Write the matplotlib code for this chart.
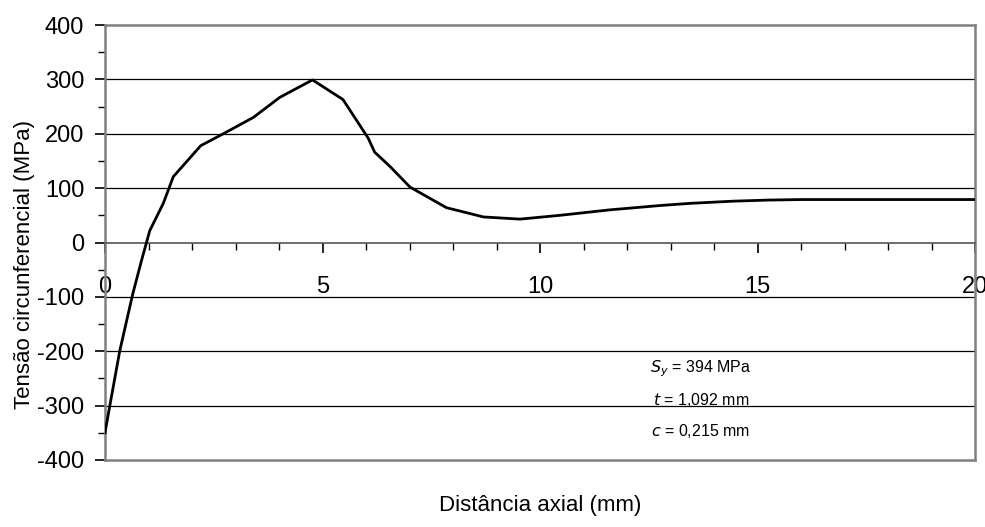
import matplotlib
matplotlib.use("Agg")
import matplotlib.pyplot as plt
from matplotlib import font_manager
from matplotlib.ticker import MultipleLocator

names = {f.name for f in font_manager.fontManager.ttflist}
fam = "Liberation Sans Narrow" if "Liberation Sans Narrow" in names else "Liberation Sans"
plt.rcParams['font.family'] = [fam, 'DejaVu Sans']
plt.rcParams['axes.unicode_minus'] = False

# Data
distance_mm = [0.0, 0.12, 0.34, 0.64, 0.84, 1.03, 1.34, 1.57, 2.2, 2.72, 3.41, 4.02,
               4.77, 5.47, 6.05, 6.2, 6.55, 7.01, 7.85, 8.7, 9.54, 10.46, 11.6,
               12.76, 13.45, 14.44, 15.24, 16.0, 17.0, 18.0, 19.0, 20.0]
stress_mpa = [-350, -296, -199, -94, -33, 22, 72, 121, 178, 200, 230, 267,
              299, 263, 192, 166, 140, 102, 64, 47, 43, 50, 60,
              68, 72, 76, 78, 79, 79, 79, 79, 79]

annotation_lines = ["$S_y$ = 394 MPa", "$t$ = 1,092 mm", "$c$ = 0,215 mm"]

fig = plt.figure(figsize=(9.85, 5.27), dpi=100)
ax = fig.add_axes([105/985, 1-460/527, 870/985, 435/527])

ax.set_xlim(0, 20)
ax.set_ylim(-400, 400)

for yv in [-300, -200, -100, 100, 200, 300]:
    ax.axhline(yv, color='black', lw=0.9, zorder=1)

ax.plot(distance_mm, stress_mpa, color='black', lw=2.0, zorder=3)

grey = '#808080'
ax.spines['bottom'].set_position(('data', 0))
ax.spines['bottom'].set_color('#555555')
ax.spines['bottom'].set_linewidth(1.2)
for s in ['left', 'right', 'top']:
    ax.spines[s].set_color(grey)
    ax.spines[s].set_linewidth(1.8)
ax.axhline(-400, color=grey, lw=1.8, clip_on=False, zorder=2)

ax.xaxis.set_major_locator(MultipleLocator(5))
ax.xaxis.set_minor_locator(MultipleLocator(1))
ax.yaxis.set_major_locator(MultipleLocator(100))
ax.yaxis.set_minor_locator(MultipleLocator(50))

ax.tick_params(axis='x', which='major', direction='out', length=7, width=1.2,
               pad=17, labelsize=17, colors='black')
ax.tick_params(axis='x', which='minor', direction='out', length=5, width=1.0)
ax.tick_params(axis='y', which='major', direction='out', length=7, width=1.2,
               pad=8, labelsize=17)
ax.tick_params(axis='y', which='minor', direction='out', length=5, width=1.0)

ax.set_ylabel("Tensão circunferencial (MPa)", fontsize=16)
ax.yaxis.set_label_coords(-0.08, 0.45)
fig.text(540/985, 1-505/527, "Distância axial (mm)", fontsize=16,
         ha='center', va='center')

for i, line in enumerate(annotation_lines):
    ax.text(13.7, -232 - i * 57, line, ha='center', va='center', fontsize=11.5)

fig.savefig("out.png", dpi=100)
